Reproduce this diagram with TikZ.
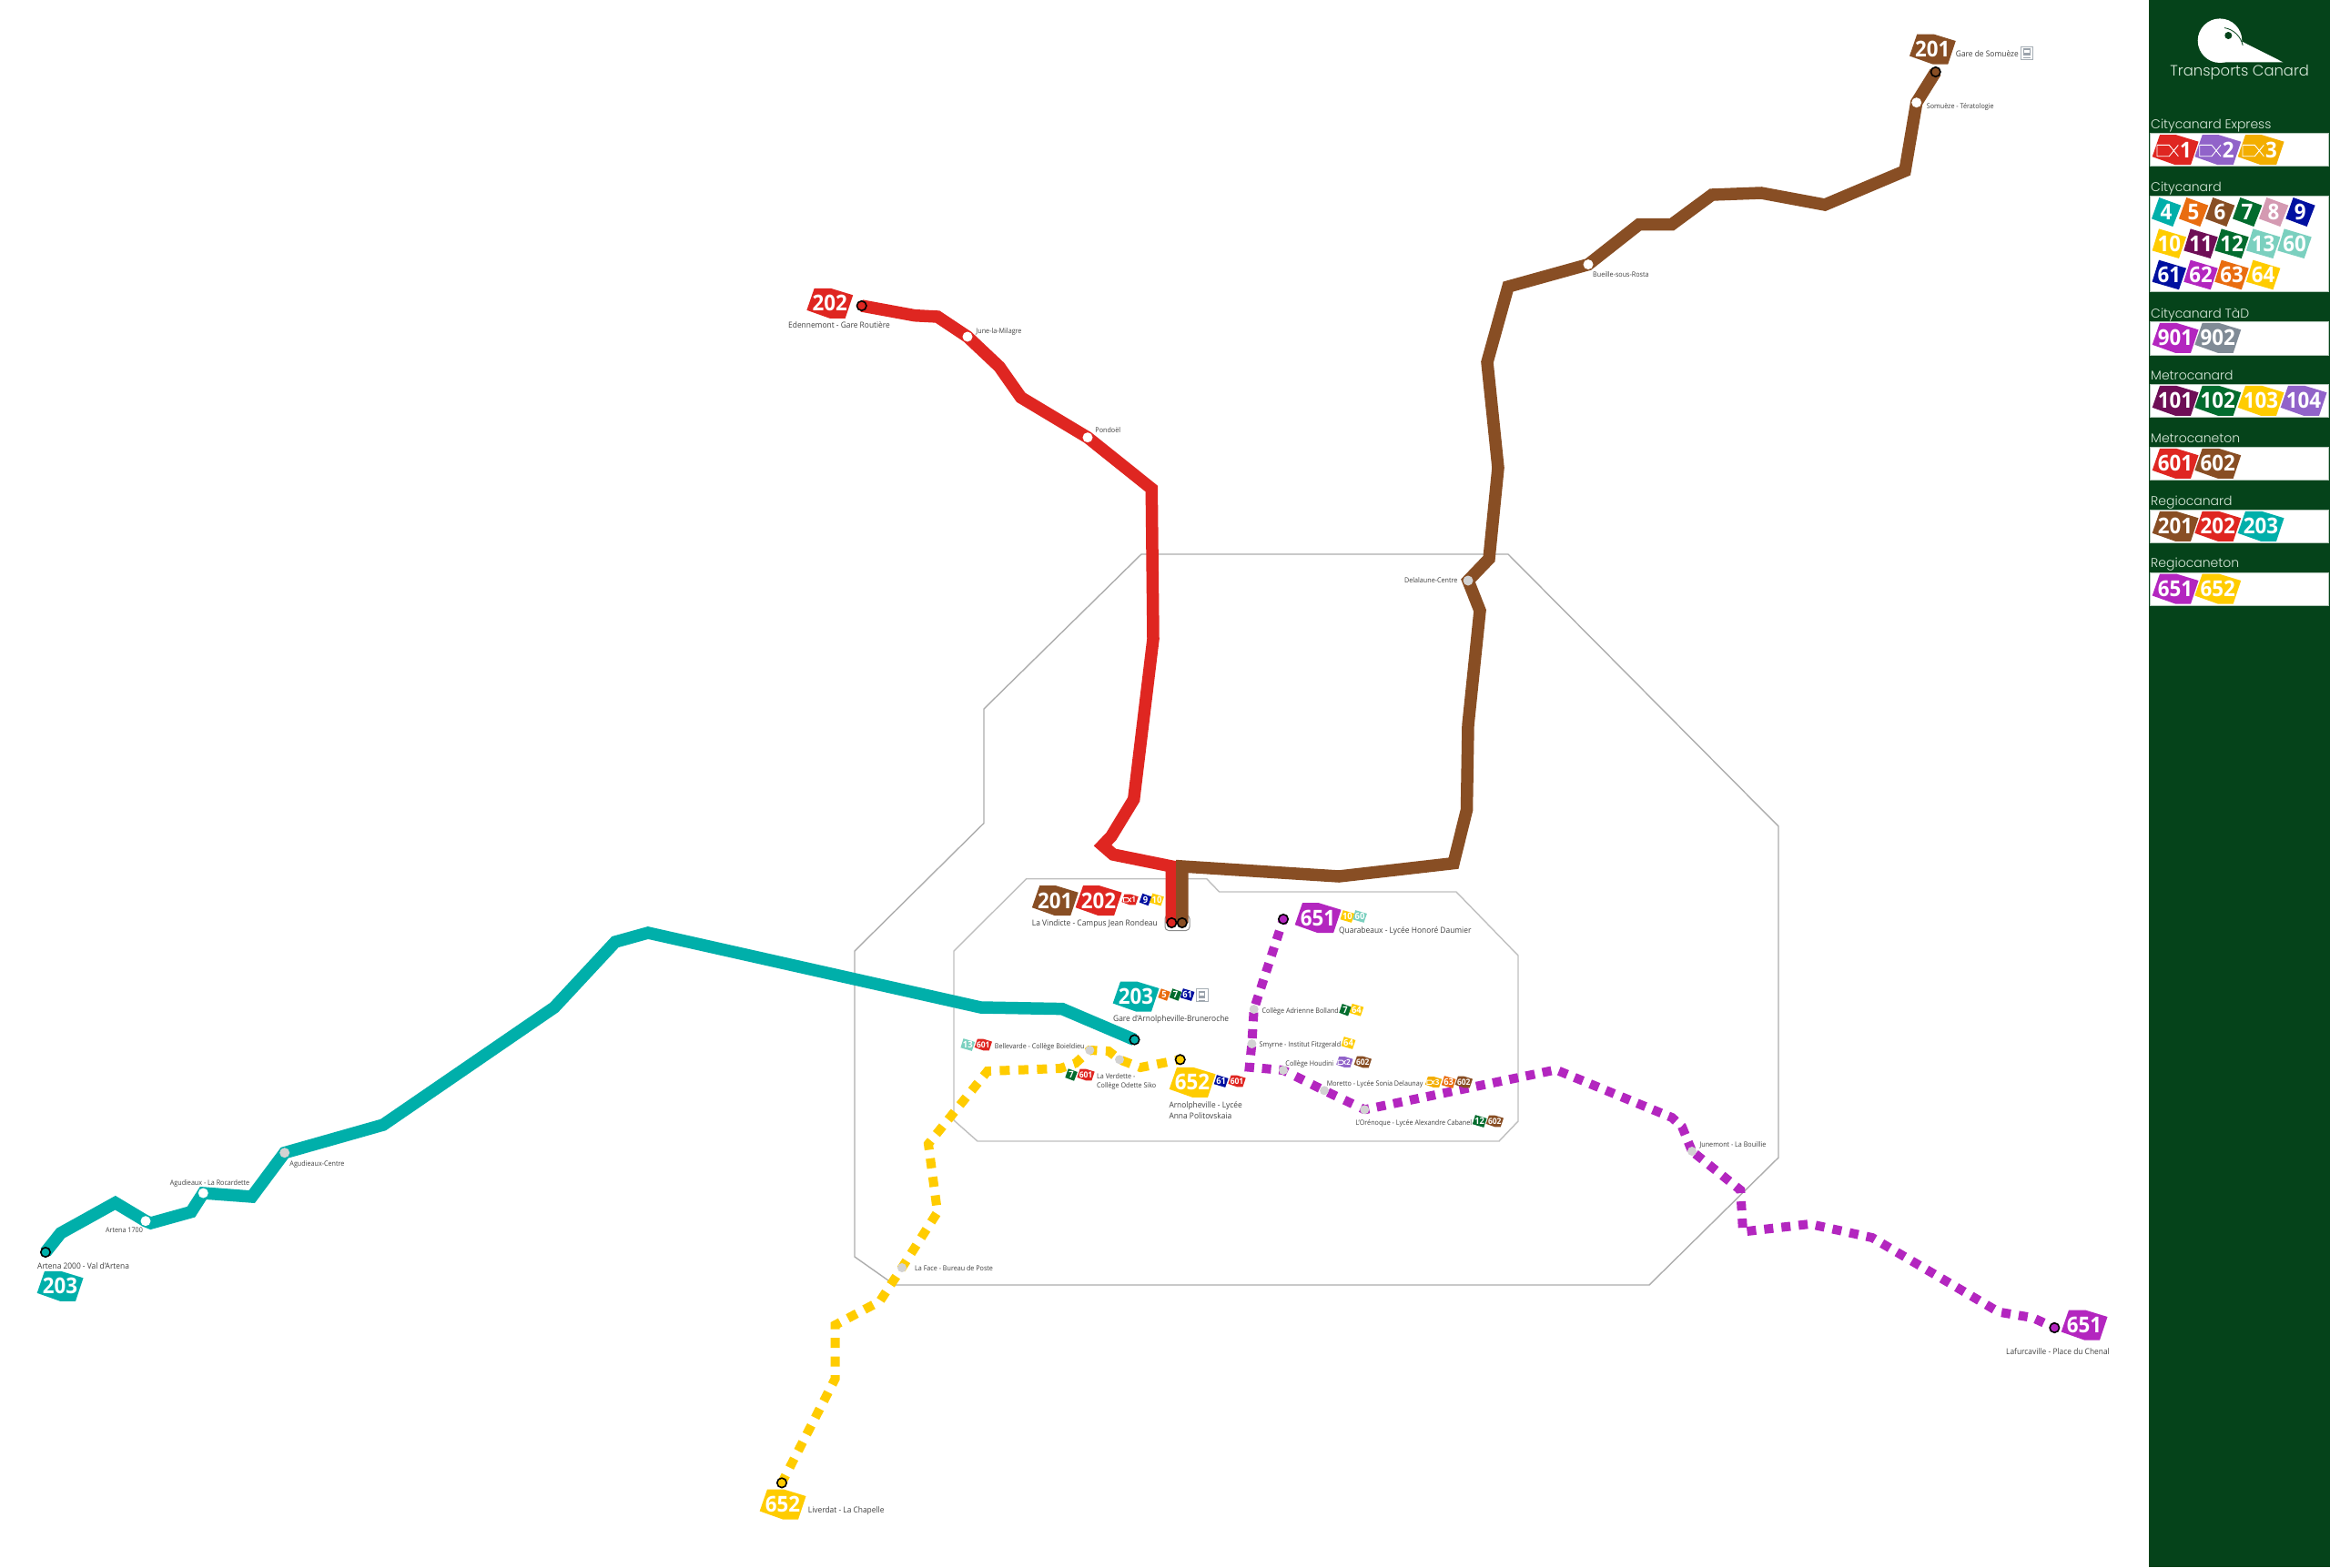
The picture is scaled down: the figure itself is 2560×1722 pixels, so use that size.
\documentclass[tikz,border=0pt]{standalone}
\usepackage{fontspec}
\setmainfont{Open Sans}
\newfontfamily\headfont[UprightFont=* Light]{Poppins}
\definecolor{cside}{HTML}{05431A}
\definecolor{cred}{HTML}{DF2621}
\definecolor{cpurple}{HTML}{9163C9}
\definecolor{camber}{HTML}{F3AE00}
\definecolor{cteal}{HTML}{00AFAA}
\definecolor{corange}{HTML}{E96D10}
\definecolor{cbrown}{HTML}{884E24}
\definecolor{cgreen}{HTML}{026C2E}
\definecolor{cpink}{HTML}{D49AB2}
\definecolor{cnavy}{HTML}{0010A0}
\definecolor{cyellow}{HTML}{FFCC00}
\definecolor{cplum}{HTML}{6E0E56}
\definecolor{cmint}{HTML}{7BD0BF}
\definecolor{cmag}{HTML}{B326BF}
\definecolor{cgrey}{HTML}{808B96}
\definecolor{chead}{HTML}{DCEBDD}
\definecolor{ctext}{HTML}{404040}
\definecolor{cstop}{HTML}{D2D2D2}
\newcounter{bn}
\tikzset{
  zone/.style={draw=#1,line width=1.4pt,line join=miter},
  rline/.style={draw=#1,line width=13.5pt,line join=miter,line cap=butt},
  dline/.style={draw=#1,line width=10pt,line join=miter},
  term/.style={circle,fill=#1,draw=black,line width=1.6pt,minimum size=10.5pt,inner sep=0pt},
  stw/.style={circle,fill=white,minimum size=11pt,inner sep=0pt},
  stg/.style={circle,fill=cstop,minimum size=11pt,inner sep=0pt},
  sts/.style={circle,fill=cstop,minimum size=10pt,inner sep=0pt},
  lab/.style={anchor=west,inner sep=0pt,text=ctext,font=\fontsize{7.8}{9}\selectfont,text height=9pt,text depth=1.6pt,transform shape,xscale=.92},
  labb/.style={anchor=west,inner sep=0pt,text=ctext,font=\fontsize{9}{11}\selectfont,text height=10pt,text depth=1.8pt,transform shape,xscale=.933},
  badgetxt/.style={text=white,inner sep=0pt,font=\fontsize{24}{24}\bfseries\selectfont,transform shape,xscale=.93},
  head/.style={anchor=base west,inner sep=0pt,text=chead,font=\headfont\fontsize{14}{15}\selectfont},
  legbox/.style={fill=white,draw=white!70!cside,line width=.8pt},
}
% #1 x, #2 y, #3 scale, #4 colour, #5 text
\newcommand{\bThree}[5]{\begin{scope}[shift={(#1,#2)},scale=#3]
  \stepcounter{bn}
  \fill[#4] (-17,-16.5)--(1,-16.5)--(25.5,-9)--(17,16.5)--(0,16.5)--(-25.3,7.5)--cycle;
  \node[badgetxt] (b\arabic{bn}) at (0,0) {#5};
\end{scope}}
\newcommand{\bOne}[5]{\begin{scope}[shift={(#1,#2)},scale=#3]
  \stepcounter{bn}
  \fill[#4] (-7.7,-16)--(16.3,-7.3)--(7.3,16)--(-16,7.3)--cycle;
  \node[badgetxt] (b\arabic{bn}) at (0,0) {#5};
\end{scope}}
\newcommand{\bTwo}[5]{\begin{scope}[shift={(#1,#2)},scale=#3]
  \stepcounter{bn}
  \fill[#4] (-11.3,-16.3)--(18.7,-7.3)--(10.7,16.3)--(-18.7,7.7)--cycle;
  \node[badgetxt] (b\arabic{bn}) at (0,0) {#5};
\end{scope}}
\newcommand{\bCx}[5]{\begin{scope}[shift={(#1,#2)},scale=#3]
  \stepcounter{bn}
  \fill[#4] (-17,-16.5)--(1,-16.5)--(25.5,-9)--(17,16.5)--(0,16.5)--(-25.3,7.5)--cycle;
  \draw[white,line width=.9pt] (3.3,-5.3)--(-6.7,7)--(-20,7)--(-20,-5.3)--(-6.7,-5.3)--(3.3,7);
  \node[badgetxt] (b\arabic{bn}) at (11.5,0) {#5};
\end{scope}}
\newcommand{\trainicon}[2]{\begin{scope}[shift={(#1,#2)}]
  \draw[draw=cgrey!70,fill=white,line width=.7pt] (-6.5,-7) rectangle (6.5,7);
  \fill[cgrey!80] (-3.8,-4.8) rectangle (3.8,3.4);
  \fill[white] (-2.6,-3) rectangle (2.6,0);
  \draw[cgrey!80,line width=.7pt] (-3.8,5.4)--(3.8,5.4);
\end{scope}}
\begin{document}
\begin{tikzpicture}[x=1pt,y=-1pt]
\useasboundingbox (0,0) rectangle (2560,1722);
\fill[white] (0,0) rectangle (2560,1722);
% zones
\draw[zone=black!32] (1254,609)--(1657,609)--(1954,908)--(1954,1272)--(1812,1412)--(983,1412)--(939,1381)--(939,1045)--(1081,904.5)--(1081,779)--cycle;
\draw[zone=black!25] (1127.7,965.7)--(1325.8,965.7)--(1339.6,980)--(1600,980)--(1668,1050)--(1668,1232)--(1647,1254)--(1074,1254)--(1048,1231)--(1048,1045)--cycle;
% stops
\coordinate (t201) at (2126.7,79);
\coordinate (somt) at (2105.7,112.7);
\coordinate (bueille) at (1745,290.6);
\coordinate (delal) at (1613,638);
\coordinate (tvb) at (1298.8,1014);
\coordinate (tvr) at (1287.3,1014);
\coordinate (t202) at (946.7,336);
\coordinate (june) at (1063,370);
\coordinate (pond) at (1195,480.7);
\coordinate (t203a) at (50,1376);
\coordinate (art17) at (160,1341.7);
\coordinate (rocar) at (223.3,1311);
\coordinate (agucen) at (312.7,1266.7);
\coordinate (t203b) at (1246.5,1142.5);
\coordinate (t652a) at (1296.7,1164.3);
\coordinate (verd) at (1230,1164.3);
\coordinate (belle) at (1197.3,1154);
\coordinate (laface) at (991,1393);
\coordinate (t652b) at (859,1629.4);
\coordinate (t651a) at (1410,1010);
\coordinate (boll) at (1377.7,1109);
\coordinate (smyr) at (1375.4,1147);
\coordinate (houd) at (1410,1176);
\coordinate (more) at (1455,1198.3);
\coordinate (oren) at (1499.3,1219.3);
\coordinate (june2) at (1859,1265);
\coordinate (t651b) at (2257.3,1459);
% Vindicte box
\draw[draw=black!45,fill=white,line width=1pt,rounded corners=4pt] (1280,1005.5) rectangle (1307,1022.5);
% lines
\draw[rline=cred] (t202)--(1005,346.7)--(1030,348)--(june)--(1098,403)--(1121.7,436.7)--(pond)--(1265.3,537)--(1267,702)--(1245.7,878.4)--(1221,919)--(1211.5,929)--(1223,939)--(1287.3,952)--(tvr);
\draw[rline=cbrown] (t201)--(somt)--(2093,187.8)--(2005,225)--(1935,212)--(1881,214)--(1837,246.5)--(1801,246.5)--(bueille)--(1657,315)--(1634,398)--(1646,514)--(1636,614)--(delal)--(1626,671)--(1613,797)--(1611.5,890)--(1597,948.6)--(1471,963)--(1298.8,952)--(tvb);
\draw[rline=cteal] (t203a)--(66.7,1355)--(126.7,1321.7)--(art17)--(165.7,1344)--(210,1331.7)--(rocar)--(276.7,1315)--(agucen)--(421,1236)--(609,1107)--(676,1035)--(712,1025)--(1077.6,1107)--(1167,1108.6)--(t203b);
\draw[dline=cyellow,dash pattern=on 11pt off 9.5pt,dash phase=5.5pt] (t652a)--(1253,1173)--(verd)--(1218,1155)--(belle)--(1181.7,1168.3)--(1165,1174)--(1085,1177)--(1020,1257)--(1030,1332)--(laface)--(966.6,1430)--(917.6,1456)--(917.6,1515)--(t652b);
\draw[dline=cmag,dash pattern=on 10pt off 8.7pt,dash phase=5pt] (t651a)--(boll);
\draw[dline=cmag,dash pattern=on 10pt off 8.7pt,dash phase=15.4pt] (boll)--(smyr);
\draw[dline=cmag,dash pattern=on 10pt off 8.7pt,dash phase=16.3pt] (smyr)--(1372.7,1172.7)--(houd);
\draw[dline=cmag,dash pattern=on 10pt off 9.9pt,dash phase=5pt] (houd)--(more)--(oren);
\draw[dline=cmag,dash pattern=on 10pt off 8.6pt,dash phase=5pt] (oren)--(1709.5,1175.5)--(1837,1228)--(1848,1238)--(june2);
\draw[dline=cmag,dash pattern=on 10pt off 9pt,dash phase=14.3pt] (june2)--(1912.3,1307.7)--(1915,1353.5)--(1988.6,1345)--(2057,1360)--(2196,1441.7)--(2233.5,1448)--(t651b);
% stop markers
\node[term=cbrown] (n201) at (t201) {};
\node[term=cbrown] (nvb) at (tvb) {};
\node[term=cred] (nvr) at (tvr) {};
\node[term=cred] (n202) at (t202) {};
\node[term=cteal] (n203a) at (t203a) {};
\node[term=cteal] (n203b) at (t203b) {};
\node[term=cyellow] (n652a) at (t652a) {};
\node[term=cyellow] (n652b) at (t652b) {};
\node[term=cmag] (n651a) at (t651a) {};
\node[term=cmag] (n651b) at (t651b) {};
\node[stw] (nsomt) at (somt) {};
\node[stw] (nbueille) at (bueille) {};
\node[stg] (ndelal) at (delal) {};
\node[stw] (njune) at (june) {};
\node[stw] (npond) at (pond) {};
\node[stw] (nart17) at (art17) {};
\node[stw] (nrocar) at (rocar) {};
\node[stg] (nagucen) at (agucen) {};
\node[sts] (nverd) at (verd) {};
\node[sts] (nbelle) at (belle) {};
\node[sts] (nlaface) at (laface) {};
\node[sts] (nboll) at (boll) {};
\node[sts] (nsmyr) at (smyr) {};
\node[sts] (nhoud) at (houd) {};
\node[sts] (nmore) at (more) {};
\node[sts] (noren) at (oren) {};
\node[sts] (njune2) at (june2) {};
% labels
\node[labb] (lv) at (1133.8,1013) {La Vindicte - Campus Jean Rondeau};
\node[labb] (lq) at (1471,1021.7) {Quarabeaux - Lycée Honoré Daumier};
\node[labb] (lg) at (1223,1118) {Gare d'Arnolpheville-Bruneroche};
\node[lab] (lab1) at (1386.5,1109.7) {Collège Adrienne Bolland};
\node[lab] (lab2) at (1383.5,1146.3) {Smyrne - Institut Fitzgerald};
\node[lab] (lab3) at (1412.3,1167.7) {Collège Houdini};
\node[lab] (lab4) at (1457.7,1189.3) {Moretto - Lycée Sonia Delaunay};
\node[lab] (lab5) at (1489.3,1232.3) {L'Orénoque - Lycée Alexandre Cabanel};
\node[lab] (lab6) at (1867.3,1256.7) {Junemont - La Bouillie};
\node[labb] (lab7) at (2204,1484.3) {Lafurcaville - Place du Chenal};
\node[labb] (lab8) at (887.7,1658.3) {Liverdat - La Chapelle};
\node[labb] (lab9) at (1284.3,1213.7) {Arnolpheville - Lycée};
\node[labb] (lab9b) at (1284.3,1225.3) {Anna Politovskaia};
\node[lab] (lab10) at (1205,1181.7) {La Verdette -};
\node[lab] (lab10b) at (1205,1192) {Collège Odette Siko};
\node[lab] (lab11) at (1092.7,1148.3) {Bellevarde - Collège Boieldieu};
\node[labb] (lab12) at (2148.7,58.3) {Gare de Somuèze};
\node[lab] (lab13) at (2116.7,116) {Somuèze - Tératologie};
\node[labb] (lab14) at (866,356) {Edennemont - Gare Routière};
\node[lab] (lab15) at (1072.3,362.7) {June-la-Milagre};
\node[lab] (lab16) at (1203.3,471.7) {Pondoël};
\node[lab] (lab17) at (1750,300.4) {Bueille-sous-Rosta};
\node[lab,anchor=east] (lab18) at (1601.6,637) {Delalaune-Centre};
\node[labb] (lab19) at (41,1390) {Artena 2000 - Val d'Artena};
\node[lab] (lab20) at (116,1350.7) {Artena 1700};
\node[lab] (lab21) at (186.7,1298.7) {Agudieaux - La Rocardette};
\node[lab] (lab22) at (318.3,1277.3) {Agudieaux-Centre};
\node[lab] (lab23) at (1005,1393) {La Face - Bureau de Poste};
% map badges
\bThree{1159.2}{989.7}{1}{cbrown}{201}
\bThree{1207}{989.7}{1}{cred}{202}
\bCx{1241.5}{988.5}{.36}{cred}{1}
\bOne{1258.5}{988.5}{.42}{cnavy}{9}
\bTwo{1271}{988.5}{.42}{cyellow}{10}
\bThree{1448}{1008.7}{1}{cmag}{651}
\bTwo{1480.4}{1007}{.42}{cyellow}{10}
\bTwo{1494}{1007}{.42}{cmint}{60}
\bThree{1248}{1095}{1}{cteal}{203}
\bOne{1279}{1093}{.42}{corange}{5}
\bOne{1291.5}{1093}{.42}{cgreen}{7}
\bTwo{1304.6}{1093}{.42}{cnavy}{61}
\trainicon{1320.4}{1093.7}
\bOne{1478}{1109.7}{.42}{cgreen}{7}
\bTwo{1490.4}{1109.7}{.42}{cyellow}{64}
\bTwo{1481.5}{1146}{.42}{cyellow}{64}
\bCx{1477.3}{1167}{.36}{cpurple}{2}
\bThree{1497.3}{1167}{.38}{cbrown}{602}
\bCx{1575}{1189}{.36}{camber}{3}
\bTwo{1591.7}{1189}{.42}{corange}{63}
\bThree{1608.3}{1189}{.38}{cbrown}{602}
\bTwo{1625.7}{1232}{.42}{cgreen}{12}
\bThree{1642.3}{1232}{.38}{cbrown}{602}
\bThree{2290}{1456}{1}{cmag}{651}
\bThree{860}{1653}{1}{cyellow}{652}
\bThree{1310}{1189.3}{1}{cyellow}{652}
\bTwo{1341.7}{1188}{.42}{cnavy}{61}
\bThree{1359}{1188}{.38}{cred}{601}
\bOne{1177}{1181}{.42}{cgreen}{7}
\bThree{1193}{1181}{.38}{cred}{601}
\bTwo{1063.3}{1148}{.42}{cmint}{13}
\bThree{1080.3}{1148}{.38}{cred}{601}
\bThree{2123.3}{54}{1}{cbrown}{201}
\trainicon{2227}{58}
\bThree{911.7}{333.3}{1}{cred}{202}
\bThree{66}{1413.3}{1}{cteal}{203}
% sidebar
\fill[cside] (2360.7,0) rectangle (2560,1722);
\fill[white] (2464,46)--(2508.3,68.3)--(2440,68.3)--cycle;
\fill[white] (2439,44.7) circle[radius=24.3];
\draw[cside,line width=.8pt] (2464.2,50) arc[start angle=12,end angle=80,x radius=25,y radius=-25];
\fill[cside] (2448.3,39) circle[radius=4];
\node[inner sep=0pt,text=chead,font=\headfont\fontsize{16.4}{17}\selectfont] (title) at (2460.7,80) {Transports Canard};
\foreach \a/\b in {146/182.7,215/320.7,353.3/390,422/458,491/527.3,560/596.3,629/665} \fill[legbox] (2362.7,\a) rectangle (2558,\b);
\node[head] (h1) at (2363,141.7) {Citycanard Express};
\node[head] (h2) at (2363,210) {Citycanard};
\node[head] (h3) at (2363,349) {Citycanard TàD};
\node[head] (h4) at (2363,417.3) {Metrocanard};
\node[head] (h5) at (2363,486.3) {Metrocaneton};
\node[head] (h6) at (2363,555) {Regiocanard};
\node[head] (h7) at (2363,623.7) {Regiocaneton};
\bCx{2390}{164.7}{1}{cred}{1}
\bCx{2436.7}{164.7}{1}{cpurple}{2}
\bCx{2484}{164.7}{1}{camber}{3}
\bOne{2380}{233}{1}{cteal}{4}
\bOne{2410}{233}{1}{corange}{5}
\bOne{2439}{233}{1}{cbrown}{6}
\bOne{2469}{233}{1}{cgreen}{7}
\bOne{2498}{233}{1}{cpink}{8}
\bOne{2527.3}{233}{1}{cnavy}{9}
\bTwo{2383.3}{267.7}{1}{cyellow}{10}
\bTwo{2418}{267.7}{1}{cplum}{11}
\bTwo{2452}{267.7}{1}{cgreen}{12}
\bTwo{2486.7}{267.7}{1}{cmint}{13}
\bTwo{2521}{267.7}{1}{cmint}{60}
\bTwo{2383.3}{302}{1}{cnavy}{61}
\bTwo{2418}{302}{1}{cmag}{62}
\bTwo{2452}{302}{1}{corange}{63}
\bTwo{2486.7}{302}{1}{cyellow}{64}
\bThree{2390}{371.3}{1}{cmag}{901}
\bThree{2436.7}{371.3}{1}{cgrey}{902}
\bThree{2390}{440.3}{1}{cplum}{101}
\bThree{2436.7}{440.3}{1}{cgreen}{102}
\bThree{2484}{440.3}{1}{cyellow}{103}
\bThree{2531}{440.3}{1}{cpurple}{104}
\bThree{2390}{509.3}{1}{cred}{601}
\bThree{2436.7}{509.3}{1}{cbrown}{602}
\bThree{2390}{578.3}{1}{cbrown}{201}
\bThree{2436.7}{578.3}{1}{cred}{202}
\bThree{2484}{578.3}{1}{cteal}{203}
\bThree{2390}{647}{1}{cmag}{651}
\bThree{2436.7}{647}{1}{cyellow}{652}
\end{tikzpicture}
\end{document}
